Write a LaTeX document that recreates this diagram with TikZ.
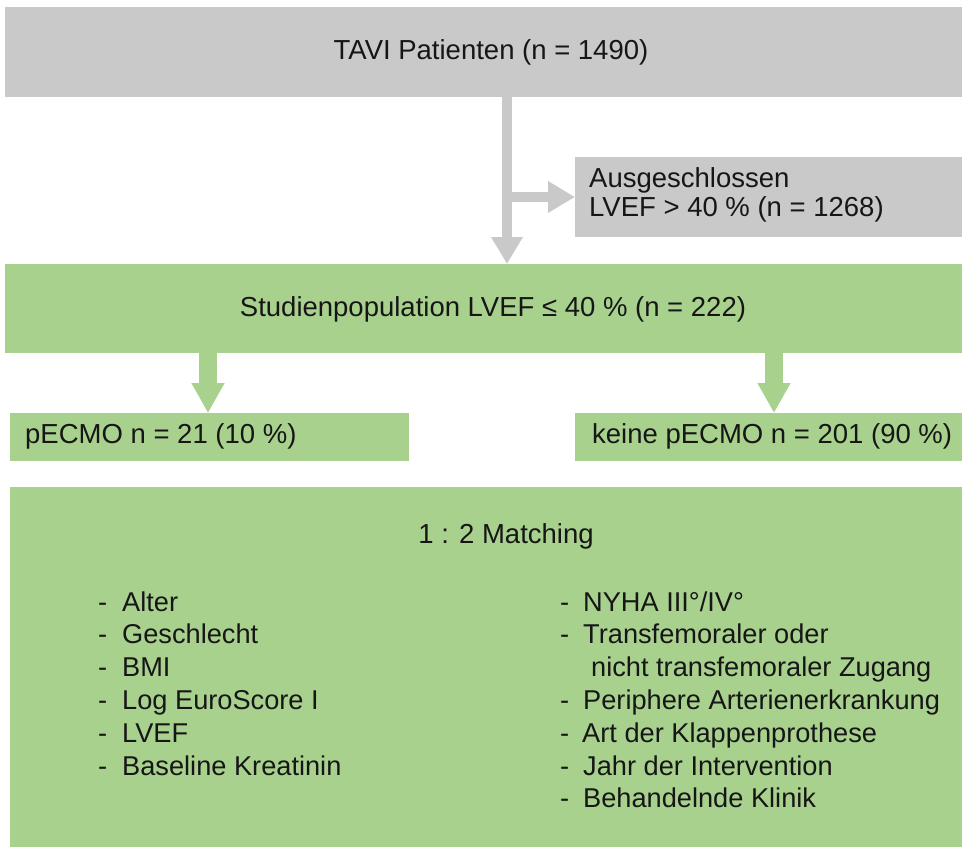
\documentclass[tikz,border=0pt]{standalone}
\usepackage{fontspec}
\setmainfont{Liberation Sans}
\usetikzlibrary{arrows.meta}
\definecolor{boxgray}{RGB}{201,201,201}
\definecolor{boxgreen}{RGB}{169,209,142}
\definecolor{txt}{RGB}{22,22,22}
\begin{document}
\begin{tikzpicture}[x=1pt,y=-1pt,
  box/.style={rectangle, inner sep=0pt, outer sep=0pt, anchor=north west},
  graybox/.style={box, fill=boxgray},
  greenbox/.style={box, fill=boxgreen},
  lbl/.style={inner sep=0pt, text=txt, font=\fontsize{27.5}{30}\selectfont},
  itm/.style={inner sep=0pt, text=txt, anchor=base west, font=\fontsize{27.2}{33}\selectfont},
  grayarrow/.style={draw=boxgray, line width=10pt, -{Triangle[length=27pt,width=30pt]}},
  greenarrow/.style={draw=boxgreen, line width=18pt, -{Triangle[length=30pt,width=31pt]}}
]
\useasboundingbox (0,0) rectangle (962,847);
% boxes
\node[graybox, minimum width=957pt, minimum height=90pt] (tavi) at (5,7) {};
\node[graybox, minimum width=387pt, minimum height=80pt] (excl) at (575,157) {};
\node[greenbox, minimum width=957pt, minimum height=89pt] (study) at (5,264) {};
\node[greenbox, minimum width=399pt, minimum height=48pt] (pe) at (10,413) {};
\node[greenbox, minimum width=387pt, minimum height=48pt] (nope) at (575,413) {};
\node[greenbox, minimum width=952pt, minimum height=360pt] (match) at (10,487) {};
% texts
\node[lbl] (tavitext) at (491,52) {TAVI Patienten (n = 1490)};
\node[lbl, anchor=base west] (excl1) at (589,187) {Ausgeschlossen};
\node[lbl, anchor=base west] (excl2) at (589,216) {LVEF > 40 \% (n = 1268)};
\node[lbl] (studytext) at (493,309) {Studienpopulation LVEF ≤ 40 \% (n = 222)};
\node[lbl, anchor=base west] (petext) at (25,443) {pECMO n = 21 (10 \%)};
\node[lbl, anchor=base west] (nopetext) at (592,443) {keine pECMO n = 201 (90 \%)};
\node[lbl, anchor=base] (matchtext) at (506,543) {1 : 2 Matching};
% lists
\foreach \t [count=\i from 0] in {Alter, Geschlecht, BMI, Log EuroScore I, LVEF, Baseline Kreatinin} {
  \node[itm] (l\i) at (98,{611+32.8*\i}) {\makebox[24pt][l]{-}\t};
}
\node[itm] (r0) at (560,611) {\makebox[23pt][l]{-}NYHA III°/IV°};
\node[itm] (r1) at (560,643.8) {\makebox[23pt][l]{-}Transfemoraler oder};
\node[itm] (r2) at (591,676.6) {nicht transfemoraler Zugang};
\node[itm] (r3) at (560,709.4) {\makebox[23pt][l]{-}Periphere Arterienerkrankung};
\node[itm] (r4) at (560,742.2) {\makebox[22pt][l]{-}Art der Klappenprothese};
\node[itm] (r5) at (560,775) {\makebox[23pt][l]{-}Jahr der Intervention};
\node[itm] (r6) at (560,807.8) {\makebox[23pt][l]{-}Behandelnde Klinik};
% arrows
\coordinate (tx) at (507,0);
\coordinate (lx) at (208,0);
\coordinate (rx) at (774,0);
\coordinate (jn) at (tx |- excl.west);
\draw[grayarrow] (tavi.south -| tx) -- (study.north -| tx);
\draw[grayarrow] (jn) -- (excl.west);
\draw[greenarrow] (study.south -| lx) -- (pe.north -| lx);
\draw[greenarrow] (study.south -| rx) -- (nope.north -| rx);
\end{tikzpicture}
\end{document}
